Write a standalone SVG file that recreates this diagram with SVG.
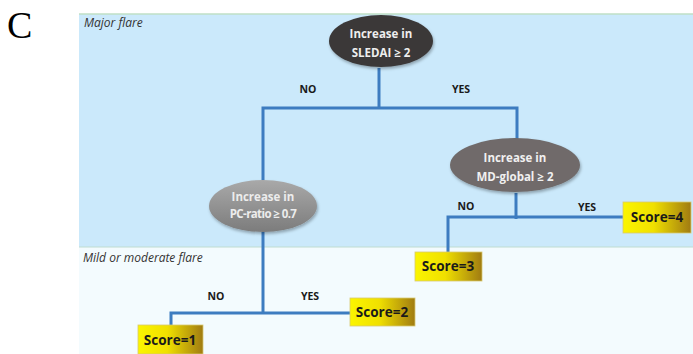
<svg xmlns="http://www.w3.org/2000/svg" width="693" height="354" viewBox="0 0 693 354">
<style>
.lbl{font-family:"Open Sans","Liberation Sans",sans-serif;font-weight:bold;font-size:10.5px;fill:#1a1a1a;text-anchor:middle}
.zone{font-family:"Open Sans","Liberation Sans",sans-serif;font-style:italic;font-size:12px;fill:#333}
.nt{font-family:"Open Sans","Liberation Sans",sans-serif;font-weight:bold;font-size:11.5px;text-anchor:middle}
.score{font-family:"Open Sans","Liberation Sans",sans-serif;font-weight:bold;font-size:13.5px;fill:#1a1a1a;text-anchor:middle}
.conn{fill:none;stroke:#3d7cc0;stroke-width:3}
</style>
<defs>
<linearGradient id="sg" x1="0" y1="0" x2="1" y2="0">
<stop offset="0" stop-color="#fbf500"/><stop offset="0.45" stop-color="#f0e000"/><stop offset="1" stop-color="#a07b12"/>
</linearGradient>
<linearGradient id="pg" x1="0" y1="0" x2="0" y2="1">
<stop offset="0" stop-color="#a9a9a9"/><stop offset="1" stop-color="#7c7c7c"/>
</linearGradient>
<filter id="sh" x="-20%" y="-20%" width="140%" height="150%">
<feDropShadow dx="1" dy="2" stdDeviation="1.5" flood-color="#000" flood-opacity="0.3"/>
</filter>
</defs>
<rect width="693" height="354" fill="#fff"/>
<text x="7" y="38" font-family="Liberation Serif,serif" font-size="38" fill="#000">C</text>
<rect x="79" y="14" width="614" height="233" fill="#cbe9fb"/>
<rect x="79" y="247" width="614" height="107" fill="#f3fbfe"/>
<line x1="79" y1="14" x2="693" y2="14" stroke="#bfdfc6" stroke-width="1.5"/>
<line x1="79" y1="247" x2="693" y2="247" stroke="#bfdcd0" stroke-width="1"/>
<text class="zone" x="84" y="27">Major flare</text>
<text class="zone" x="83" y="262">Mild or moderate flare</text>
<g id="connectors">
<polyline class="conn" points="379,68 379,108"/>
<polyline class="conn" points="263,180 263,108 517,108 517,139"/>
<polyline class="conn" points="516,193 516,219"/>
<polyline class="conn" points="448,252 448,217 623,217"/>
<polyline class="conn" points="263,232 263,313"/>
<polyline class="conn" points="171,325 171,313 350,313"/>
<text class="lbl" x="308" y="93">NO</text>
<text class="lbl" x="461" y="93">YES</text>
<text class="lbl" x="466" y="210">NO</text>
<text class="lbl" x="587" y="211">YES</text>
<text class="lbl" x="216" y="300">NO</text>
<text class="lbl" x="310" y="300">YES</text>
</g>
<g id="n-sledai">
<ellipse cx="381" cy="41" rx="52" ry="26" fill="#3b3838" filter="url(#sh)"/>
<text class="nt" x="381" y="38" fill="#eeeeee">Increase in</text>
<text class="nt" x="381" y="57" fill="#eeeeee">SLEDAI ≥ 2</text>
</g>
<g id="n-mdglobal">
<ellipse cx="515" cy="165" rx="65" ry="27" fill="#6f6b6b" filter="url(#sh)"/>
<text class="nt" x="515" y="162" fill="#f0f0f0">Increase in</text>
<text class="nt" x="515" y="181" fill="#f0f0f0">MD-global ≥ 2</text>
</g>
<g id="n-pcratio">
<ellipse cx="263" cy="206" rx="54" ry="26" fill="url(#pg)" filter="url(#sh)"/>
<text class="nt" x="263" y="201" fill="#ececec">Increase in</text>
<text class="nt" x="263" y="218" fill="#ececec" letter-spacing="-0.6">PC-ratio ≥ 0.7</text>
</g>
<g id="s4">
<rect x="623" y="202" width="68" height="31" fill="url(#sg)" stroke="#d8c870" stroke-width="0.8"/>
<text class="score" x="657" y="222">Score=4</text>
</g>
<g id="s3">
<rect x="415" y="252" width="67" height="29" fill="url(#sg)" stroke="#d8c870" stroke-width="0.8"/>
<text class="score" x="448" y="271">Score=3</text>
</g>
<g id="s2">
<rect x="350" y="298" width="65" height="28" fill="url(#sg)" stroke="#d8c870" stroke-width="0.8"/>
<text class="score" x="382" y="317">Score=2</text>
</g>
<g id="s1">
<rect x="138" y="325" width="65" height="29" fill="url(#sg)" stroke="#d8c870" stroke-width="0.8"/>
<text class="score" x="170" y="345">Score=1</text>
</g>
</svg>
